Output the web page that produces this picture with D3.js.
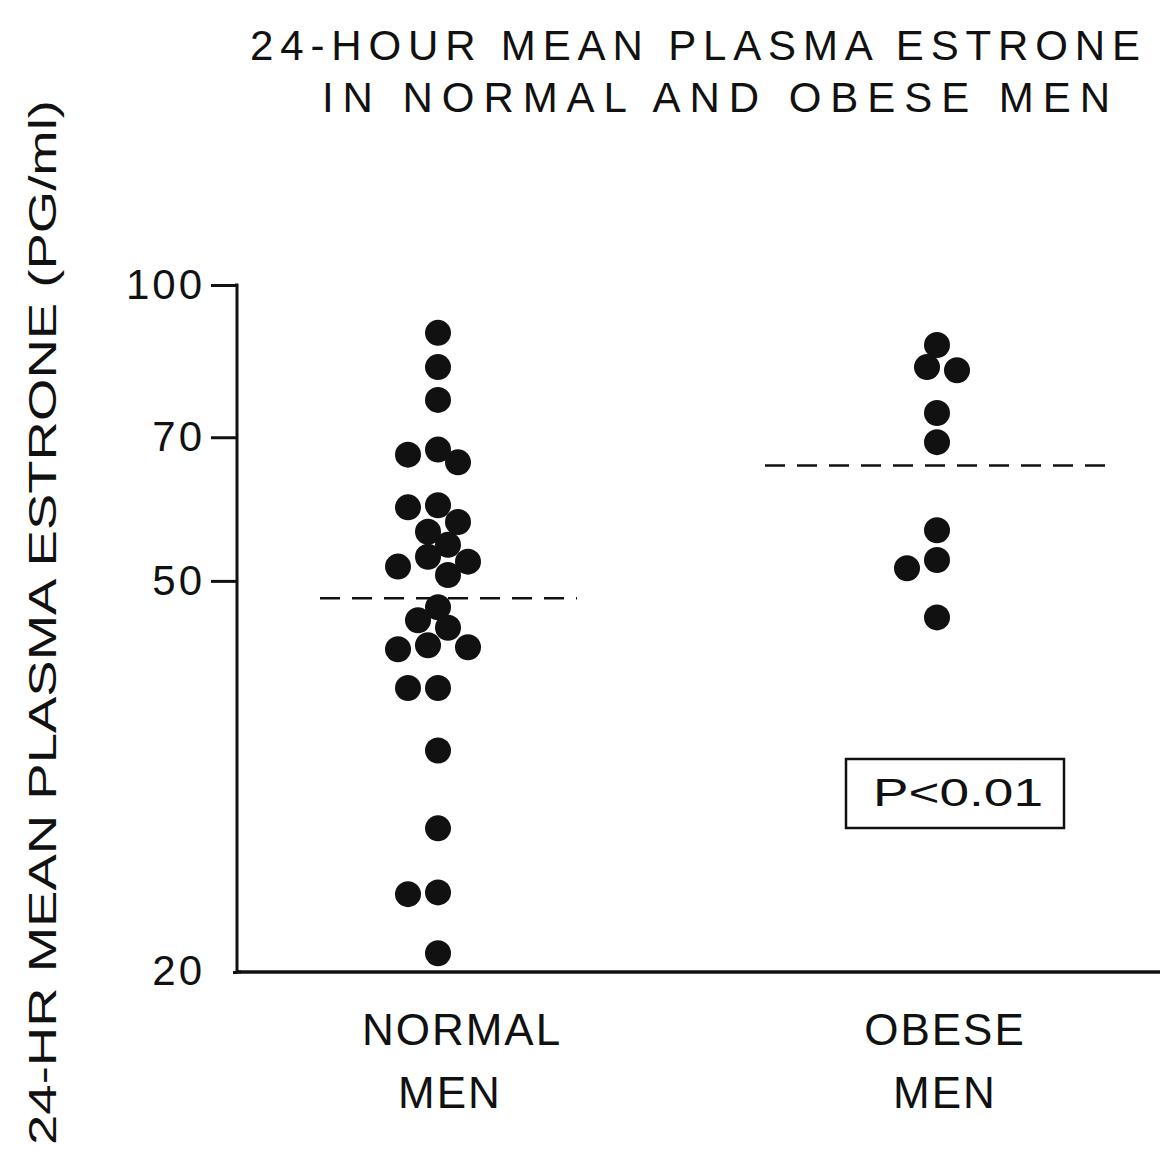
<!DOCTYPE html>
<html>
<head>
<meta charset="utf-8">
<script src="https://cdn.jsdelivr.net/npm/d3@7"></script>
<style>
  html, body { margin: 0; padding: 0; background: #fff; }
  svg { display: block; }
  text { font-family: "Liberation Sans", Arial, sans-serif; fill: #111; }
</style>
</head>
<body>
<svg id="chart" width="1165" height="1161"></svg>
<script>
// Group names (two lines each) and 24-hour mean plasma estrone per subject, pg/ml
const groups = ["NORMAL MEN", "OBESE MEN"];
const groupLines = [["NORMAL", "MEN"], ["OBESE", "MEN"]];
const normalMen = [89.4, 82.5, 76.4, 68.0, 67.2, 66.0, 59.7, 59.4, 57.4, 56.1, 54.4, 52.9,
                   52.3, 51.7, 50.7, 47.0, 45.6, 44.8, 43.0, 42.8, 42.6, 38.9, 38.9, 33.6,
                   28.0, 24.1, 24.0, 20.9];
const obeseMen = [86.9, 82.5, 81.9, 74.1, 69.2, 56.3, 52.5, 51.5, 45.9];
const groupMeans = [48.0, 65.5];
const yTicks = [20, 50, 70, 100];
const titleLines = ["24-HOUR  MEAN  PLASMA  ESTRONE", "IN  NORMAL  AND  OBESE  MEN"];
const yLabel = "24-HR MEAN PLASMA ESTRONE (PG/ml)";
const pLabel = "P<0.01";

const svg = d3.select("#chart");
const ink = "#111";

const y = d3.scaleLog().domain([20, 100]).range([972, 285]);
const x = d3.scalePoint().domain(groups).range([438, 937]);

// Titles
svg.append("text").attr("x", 250).attr("y", 60)
  .attr("font-size", 42).attr("textLength", 890).attr("lengthAdjust", "spacing")
  .text(titleLines[0]);
svg.append("text").attr("x", 322).attr("y", 112)
  .attr("font-size", 42).attr("textLength", 788).attr("lengthAdjust", "spacing")
  .text(titleLines[1]);

// Rotated y-axis title
svg.append("text")
  .attr("transform", "translate(56,1145) rotate(-90)")
  .attr("font-size", 38).attr("textLength", 1045).attr("lengthAdjust", "spacingAndGlyphs")
  .text(yLabel);

// Y axis (log scale)
const yAxis = d3.axisLeft(y).tickValues(yTicks).tickFormat(d3.format("d")).tickSize(26).tickPadding(6);
const gy = svg.append("g").attr("transform", "translate(237,0)").call(yAxis);
gy.select(".domain").attr("stroke", ink).attr("stroke-width", 3).attr("d", "M-2,285H0V972H4");
gy.selectAll(".tick line").attr("stroke", ink).attr("stroke-width", 3)
  .attr("x2", d => d === 20 ? -4 : -26);
gy.selectAll(".tick text").attr("font-size", 42).attr("fill", ink)
  .attr("letter-spacing", 3).attr("font-family", "Liberation Sans, Arial, sans-serif")
  .attr("x", -32);
gy.selectAll(".tick").filter(d => d === 20).select("text").attr("dy", "0.3em");

// X axis baseline
svg.append("line").attr("x1", 237).attr("x2", 1160).attr("y1", y(20)).attr("y2", y(20))
  .attr("stroke", ink).attr("stroke-width", 3.5);

// Group labels
groups.forEach((g, i) => {
  const t = svg.append("text").attr("text-anchor", "middle").attr("font-size", 44)
    .attr("letter-spacing", 2);
  t.append("tspan").attr("x", x(g) + (i === 0 ? 24 : 8)).attr("y", 1045).text(groupLines[i][0]);
  t.append("tspan").attr("x", x(g) + (i === 0 ? 12 : 8)).attr("y", 1108).text(groupLines[i][1]);
});

// Dodge dots so overlapping values spread sideways around the group centre
const r = 13;
function dodge(values, cx) {
  const placed = [];
  const step = 10, minDist = 22.5;
  values.slice().sort((a, b) => b - a).forEach(v => {
    const cy = y(v);
    for (let k = 0; k < 20; k++) {
      const offs = k === 0 ? [0] : [-k * step, k * step];
      let found = null;
      for (const o of offs) {
        if (placed.every(p => Math.hypot(p.x - (cx + o), p.y - cy) >= minDist)) { found = o; break; }
      }
      if (found !== null) { placed.push({ x: cx + found, y: cy, v }); break; }
    }
  });
  return placed;
}

[normalMen, obeseMen].forEach((vals, i) => {
  const pts = dodge(vals, x(groups[i]));
  svg.append("g").selectAll("circle").data(pts).join("circle")
    .attr("cx", d => d.x).attr("cy", d => d.y).attr("r", r).attr("fill", ink);
});

// Group mean lines
const meanExtent = [[320, 577], [765, 1113]];
groupMeans.forEach((m, i) => {
  svg.append("line").attr("x1", meanExtent[i][0]).attr("x2", meanExtent[i][1])
    .attr("y1", y(m)).attr("y2", y(m))
    .attr("stroke", ink).attr("stroke-width", 2.5).attr("stroke-dasharray", "20,12");
});

// Significance box
svg.append("rect").attr("x", 846).attr("y", 759).attr("width", 218).attr("height", 69)
  .attr("fill", "none").attr("stroke", ink).attr("stroke-width", 2.5);
svg.append("text").attr("x", 873).attr("y", 806).attr("font-size", 38)
  .attr("textLength", 170).attr("lengthAdjust", "spacingAndGlyphs").text(pLabel);
</script>
</body>
</html>
